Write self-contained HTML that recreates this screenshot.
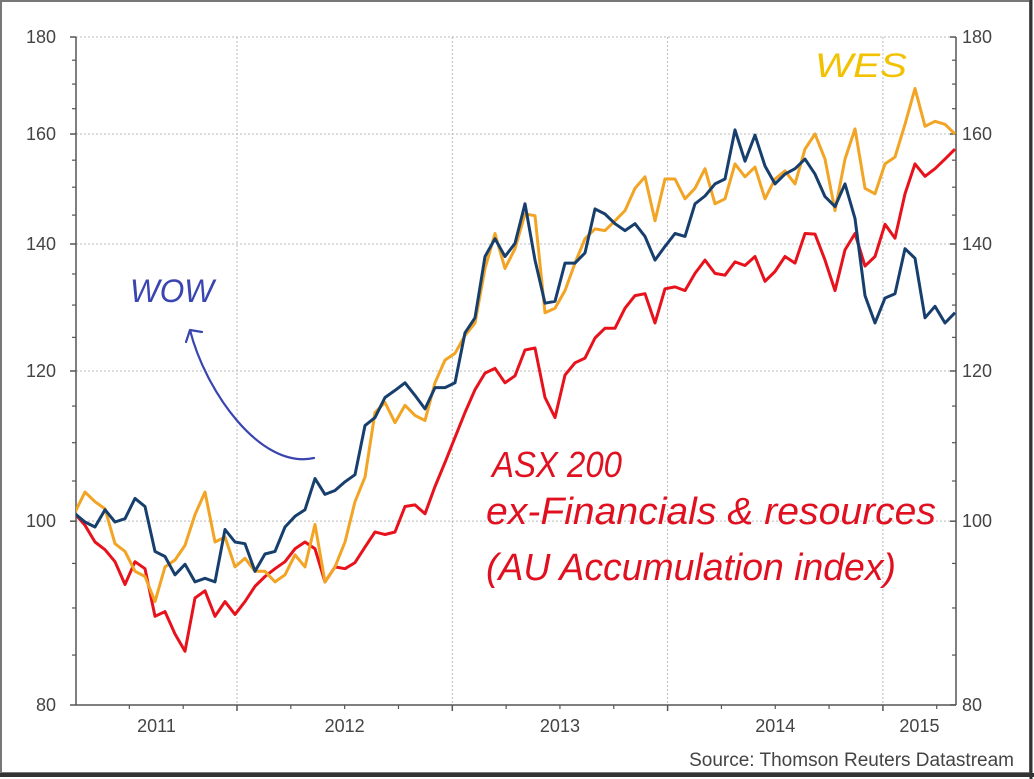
<!DOCTYPE html>
<html><head><meta charset="utf-8"><style>
html,body{margin:0;padding:0;background:#fff;}
svg{display:block;font-family:"Liberation Sans",sans-serif;}
</style></head><body>
<svg id="chart" width="1034" height="779" viewBox="0 0 1034 779" xmlns="http://www.w3.org/2000/svg">
<rect x="0" y="0" width="1034" height="779" fill="#fff"/>
<rect x="1" y="1" width="1029" height="772" fill="none" stroke="#777" stroke-width="2"/>
<line x1="0" y1="775" x2="1034" y2="775" stroke="#333" stroke-width="4"/>
<line x1="1031" y1="0" x2="1031" y2="779" stroke="#333" stroke-width="3"/>
<g id="grid"></g>
<g id="axes"></g>
<defs><clipPath id="plotclip"><rect x="76" y="30" width="880" height="676"/></clipPath></defs>
<g id="series" clip-path="url(#plotclip)"></g>
<text x="1014" y="766" text-anchor="end" font-size="19" fill="#444">Source: Thomson Reuters Datastream</text>
<text x="815" y="77" font-size="34" fill="#f2c200" textLength="92" lengthAdjust="spacingAndGlyphs" font-style="italic">WES</text>
<text x="130" y="302" font-size="32" fill="#3a45b0" textLength="84" lengthAdjust="spacingAndGlyphs" font-style="italic">WOW</text>
<path d="M314,458 C260,470 205,390 190,330 M190,330 L186,342 M190,330 L202,332" fill="none" stroke="#3a45b0" stroke-width="2.2" stroke-linecap="round"/>
<g fill="#e01020" font-style="italic">
<text x="492" y="477" font-size="36" textLength="130" lengthAdjust="spacingAndGlyphs">ASX 200</text>
<text x="486" y="524" font-size="38" textLength="450" lengthAdjust="spacingAndGlyphs">ex-Financials &amp; resources</text>
<text x="486" y="580" font-size="38" textLength="410" lengthAdjust="spacingAndGlyphs">(AU Accumulation index)</text>
</g>
</svg>
<script>
const startDate = 2011.2475;
const dateStep = 0.04645;
const asxValues = [100.9,99.5,97.5,96.6,95.2,92.6,95.2,94.4,89.1,89.6,87.2,85.4,91.1,91.9,89.1,90.7,89.3,90.7,92.4,93.5,94.4,95.2,96.7,97.5,96.7,92.9,94.6,94.4,95.1,96.9,98.7,98.4,98.7,101.8,102.0,100.9,104.3,107.4,110.7,114.1,117.3,119.7,120.4,118.3,119.3,123.1,123.4,116.2,113.4,119.4,121.2,121.9,124.9,126.4,126.4,129.5,131.5,131.8,127.2,132.6,132.9,132.3,135.1,137.3,135.1,134.8,137.0,136.4,137.9,133.8,135.4,137.9,136.8,141.8,141.7,137.3,132.3,139.0,141.8,136.3,137.9,143.4,141.0,148.8,154.3,152.0,153.4,155.2,157.1];
const wowValues = [100.9,99.9,99.3,101.4,99.9,100.3,102.8,101.8,96.4,95.8,93.7,94.9,92.9,93.3,92.9,99.0,97.5,97.3,94.1,96.1,96.4,99.3,100.6,101.4,105.3,103.3,103.8,104.9,105.8,112.3,113.4,116.2,117.2,118.3,116.5,114.6,117.6,117.6,118.3,125.7,128.0,137.9,140.9,137.9,140.1,147.0,137.3,130.3,130.6,136.8,136.8,138.5,146.1,145.2,143.5,142.3,143.5,141.3,137.3,139.6,141.8,141.3,147.0,148.4,150.6,151.5,160.8,154.8,159.8,153.9,150.6,152.4,153.4,155.2,152.4,148.3,146.5,150.6,144.4,131.5,127.2,131.1,131.8,139.2,137.6,128.0,129.8,127.2,128.8];
const wesValues = [101.1,103.6,102.4,101.5,97.3,96.4,94.1,93.5,90.7,94.6,95.4,97.1,100.8,103.6,97.5,98.1,94.6,95.6,94.1,94.1,92.9,93.7,96.0,94.6,99.6,92.9,94.6,97.5,102.4,105.5,114.1,115.5,112.7,115.1,113.7,113.0,118.3,121.6,122.6,125.3,127.2,135.9,141.8,135.9,139.2,145.2,144.9,128.8,129.5,132.3,136.8,140.9,142.6,142.3,144.0,145.8,149.8,151.9,144.0,151.5,151.5,147.9,149.8,153.4,147.0,147.9,154.3,151.9,153.7,147.9,151.5,153.0,150.6,157.1,160.0,155.2,145.8,155.2,161.0,149.8,148.8,154.3,155.6,161.9,169.1,161.5,162.5,161.9,160.0];
const yMajorTicks = [80,100,120,140,160,180];
const yMinorTicks = [85,90,95,105,110,115,125,130,135,145,150,155,165,170,175];
const yearLabels = ["2011","2012","2013","2014","2015"];
const yearBoundaries = [2012,2013,2014,2015];

const NS = "http://www.w3.org/2000/svg";
const X0 = 76, X1 = 956, YT = 37, YB = 705;
function xScale(d){ return 237 + (d - 2012) * 215.3; }
function yScale(v){ return YB - (Math.log(v/80)/Math.log(180/80)) * (YB - YT); }
function mk(tag, attrs, parent){ const e = document.createElementNS(NS, tag); for (const k in attrs) e.setAttribute(k, attrs[k]); parent.appendChild(e); return e; }
const grid = document.getElementById('grid');
const axes = document.getElementById('axes');
const series = document.getElementById('series');

yMajorTicks.forEach(v => {
  const y = yScale(v);
  if (v > 80) {
    const g = mk('line', {x1:X0, x2:X1, y1:y, y2:y, stroke:'#bbb', 'stroke-width':1, 'stroke-dasharray':'2,2'}, grid);
    
    
  }
  const t1 = mk('line', {x1:X0-6, x2:X0, y1:y, y2:y, stroke:'#555', 'stroke-width':1.5}, axes);
  
  
  const t2 = mk('line', {x1:X1-6, x2:X1, y1:y, y2:y, stroke:'#555', 'stroke-width':1.5}, axes);
  
  
  const l = mk('text', {x:56, y:y+6, 'text-anchor':'end', 'font-size':18, fill:'#444'}, axes);
  l.textContent = v;
  
  
  const r = mk('text', {x:962, y:y+6, 'text-anchor':'start', 'font-size':18, fill:'#444'}, axes);
  r.textContent = v;
  
  
});
yMinorTicks.forEach(v => {
  const y = yScale(v);
  const a = mk('line', {x1:X0-4, x2:X0, y1:y, y2:y, stroke:'#555', 'stroke-width':1.2}, axes);
  
  
  const b = mk('line', {x1:X1-4, x2:X1, y1:y, y2:y, stroke:'#555', 'stroke-width':1.2}, axes);
  
  
});
yearBoundaries.forEach(d => {
  const x = xScale(d);
  const g = mk('line', {x1:x, x2:x, y1:YT, y2:YB, stroke:'#bbb', 'stroke-width':1, 'stroke-dasharray':'2,2'}, grid);
  
  
  const t = mk('line', {x1:x, x2:x, y1:YB, y2:YB+6, stroke:'#555', 'stroke-width':1.5}, axes);
  
  
});
for (let q = 2011.25; q < 2015.4; q += 0.25) {
  if (Math.abs(q - Math.round(q)) < 0.01) continue;
  const x = xScale(q);
  if (x < X0 || x > X1) continue;
  const t = mk('line', {x1:x, x2:x, y1:YB, y2:YB+4, stroke:'#555', 'stroke-width':1.2}, axes);
  
  
}
yearLabels.forEach((lab, i) => {
  const yr = +lab;
  const a = Math.max(xScale(yr), X0), b = Math.min(xScale(yr+1), X1);
  const t = mk('text', {x:(a+b)/2, y:732, 'text-anchor':'middle', 'font-size':18, fill:'#444'}, axes);
  t.textContent = lab;
  
  
});
const la = mk('line', {x1:X0, x2:X0, y1:YT, y2:YB, stroke:'#555', 'stroke-width':1.5}, axes);


const ra = mk('line', {x1:X1, x2:X1, y1:YT, y2:YB, stroke:'#555', 'stroke-width':1.5}, axes);


const ba = mk('line', {x1:X0, x2:X1, y1:YB, y2:YB, stroke:'#555', 'stroke-width':1.5}, axes);



function drawLine(vals, color, name){
  const pts = vals.map((v,i) => xScale(startDate + i*dateStep).toFixed(1) + ',' + yScale(v).toFixed(1)).join(' ');
  const p = mk('polyline', {points:pts, fill:'none', stroke:color, 'stroke-width':3, 'stroke-linejoin':'round'}, series);
  
  
}
drawLine(asxValues, '#e8121c', 'asx200-ex-fin-line');
drawLine(wesValues, '#f2a424', 'wes-line');
drawLine(wowValues, '#173f6e', 'wow-line');
</script>
</body></html>
